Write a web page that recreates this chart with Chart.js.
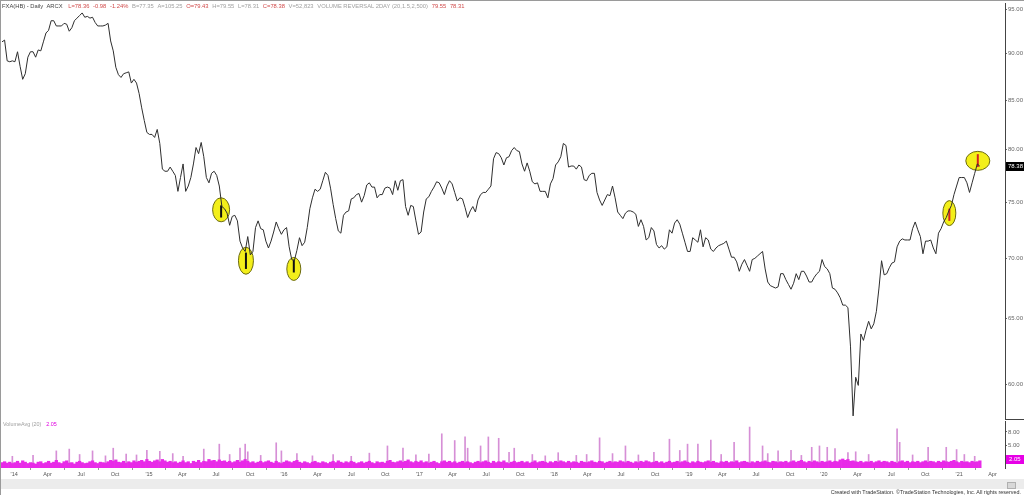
<!DOCTYPE html>
<html lang="en">
<head>
  <meta charset="UTF-8" />
  <title>FXA(HB) - Daily</title>
  <script src="https://cdn.jsdelivr.net/npm/chart.js@4"></script>
  <style>
    body {
      margin: 0;
      background: #fff;
      font-family: "Liberation Sans", Arial, sans-serif;
    }
    .wrap {
      position: relative;
      width: 1024px;
      height: 495px;
      overflow: hidden;
      background: #fff;
      border-left: 1px solid #9a9a9a;
      border-top: 1px solid #9a9a9a;
      box-sizing: border-box;
    }
    canvas { position: absolute; left: 0; }
    #price { top: 0; }
    #vol { top: 419px; }
    .hdr {
      position: absolute;
      top: 1px;
      left: 1px;
      font-size: 5.8px;
      line-height: 8px;
      white-space: nowrap;
      display: flex;
      gap: 3.7px;
    }
    .hdr span { flex-shrink: 0; }
    .hdr .title { color: #444; margin-right: 2px; }
    .rd { color: #d04a4a; }
    .gy { color: #a0a0a0; }
    .vlab {
      position: absolute;
      top: 420px;
      left: 2px;
      font-size: 5.4px;
      color: #a0a0a0;
      white-space: nowrap;
    }
    .vlab b { font-weight: normal; color: #e000e0; margin-left: 5px; }
    .band {
      position: absolute;
      left: 0;
      top: 478px;
      width: 1024px;
      height: 10px;
      background: #ececec;
    }
    .thumb {
      position: absolute;
      left: 1006px;
      top: 481px;
      width: 7px;
      height: 5px;
      background: #d8d8d8;
      border: 1px solid #b0b0b0;
    }
    .credit {
      position: absolute;
      right: 3px;
      top: 488px;
      font-size: 5.4px;
      color: #333;
      white-space: nowrap;
    }
  </style>
</head>
<body>
  <div class="wrap">
    <canvas id="price" width="1024" height="419"></canvas>
    <canvas id="vol" width="1024" height="60"></canvas>
    <div class="hdr">
      <span class="title">FXA(HB) - Daily&nbsp;&nbsp;ARCX</span>
      <span class="rd">L=78.36</span>
      <span class="rd">-0.98</span>
      <span class="rd">-1.24%</span>
      <span class="gy">B=77.35</span>
      <span class="gy">A=105.25</span>
      <span class="rd">O=79.43</span>
      <span class="gy">H=79.55</span>
      <span class="gy">L=78.31</span>
      <span class="rd">C=78.38</span>
      <span class="gy">V=52,823</span>
      <span class="gy">VOLUME REVERSAL 2DAY (20,1.5,2,500)</span>
      <span class="rd">79.55</span>
      <span class="rd">78.31</span>
    </div>
    <div class="vlab">VolumeAvg (20)<b>2.05</b></div>
    <div class="band"></div>
    <div class="thumb"></div>
    <div class="credit">Created with TradeStation. &copy;TradeStation Technologies, Inc. All rights reserved.</div>
  </div>

  <script>
    // weekly closes, first week ending 29 Nov 2013, last bar 25 Feb 2021
    const startMs = Date.UTC(2013, 10, 29);
    const dayMs = 864e5;
    const weekTime = i => startMs + i * 7 * dayMs;

    const prices = [
      91.3, 91.5, 89.2, 89.1, 89.2, 89.1, 90.2, 88.6, 87.2, 87.8, 89.6, 90.2, 90.2, 89.6, 90.4, 90.3, 91.3, 92.3, 92.6, 93.7,
      93.7, 93.1, 93.1, 93.1, 93.4, 93.3, 92.5, 92.9, 93.7, 94.0, 94.3, 94.6, 94.1, 94.2, 94.0, 94.1, 93.5, 93.1, 93.1, 93.1,
      93.2, 93.4, 91.4, 90.3, 88.5, 87.7, 87.4, 87.8, 87.9, 88.0, 86.8, 87.2, 86.8, 85.7, 84.2, 82.9, 81.7, 81.5, 81.5, 81.2,
      82.0, 80.6, 78.1, 77.9, 77.9, 78.3, 77.9, 77.5, 76.0, 77.3, 78.6, 76.0, 76.5, 77.3, 78.6, 80.2, 79.6, 80.7, 79.3, 77.3,
      76.8, 77.7, 77.9, 77.5, 76.5, 74.6, 74.4, 74.0, 72.9, 73.7, 73.8, 73.3, 71.5, 70.9, 70.6, 71.9, 70.3, 70.6, 72.7, 73.3,
      72.6, 72.5, 71.5, 70.9, 71.5, 72.3, 73.2, 72.6, 72.1, 72.5, 72.7, 71.0, 69.9, 69.8, 70.7, 71.8, 71.1, 71.4, 72.7, 74.4,
      75.4, 76.2, 76.0, 76.2, 77.0, 77.8, 77.5, 76.3, 74.8, 73.5, 72.4, 72.2, 73.8, 74.1, 74.2, 75.3, 75.4, 75.7, 75.8, 75.0,
      75.6, 76.6, 76.8, 76.4, 76.4, 75.4, 75.7, 75.7, 76.3, 76.4, 76.3, 75.7, 77.0, 76.1, 77.0, 77.1, 74.6, 73.8, 74.7, 74.6,
      73.3, 72.1, 72.3, 74.1, 75.3, 75.5, 76.0, 76.4, 76.9, 76.8, 76.3, 75.7, 76.5, 77.0, 76.7, 75.9, 75.1, 75.4, 75.3, 74.5,
      73.6, 74.2, 74.6, 74.1, 75.2, 75.7, 75.9, 75.9, 76.2, 76.5, 79.1, 79.7, 79.6, 79.2, 78.5, 79.2, 79.3, 79.9, 80.2, 79.9,
      79.8, 78.6, 77.9, 78.7, 77.9, 76.9, 76.7, 76.8, 76.0, 76.0, 76.0, 75.4, 76.7, 77.2, 78.5, 78.8, 79.3, 80.6, 80.4, 78.3,
      78.4, 78.4, 78.1, 78.5, 78.3, 77.1, 77.0, 77.5, 77.7, 77.7, 75.9, 75.2, 74.7, 75.2, 75.7, 75.6, 76.5, 75.4, 74.1, 73.8,
      73.5, 74.0, 74.2, 74.2, 74.1, 73.9, 72.8, 73.4, 72.8, 71.6, 71.8, 72.7, 72.4, 71.2, 70.9, 71.1, 70.8, 71.0, 72.5, 72.2,
      73.1, 73.4, 73.0, 72.2, 71.4, 70.6, 70.6, 71.8, 71.6, 71.4, 72.5, 71.0, 71.8, 71.6, 70.8, 70.6, 70.9, 71.1, 71.2, 71.3,
      71.5, 70.8, 70.1, 70.1, 69.7, 68.9, 69.5, 69.9, 69.4, 68.9, 69.9, 70.0, 70.2, 70.4, 70.6, 69.1, 68.0, 67.7, 67.6, 67.5,
      67.6, 68.7, 68.7, 68.2, 67.8, 67.4, 67.9, 68.7, 68.2, 68.9, 68.9, 68.5, 68.0, 68.0, 68.4, 68.7, 68.9, 69.9, 69.3, 69.1,
      68.7, 67.5, 67.4, 67.1, 66.7, 66.1, 66.1, 65.9, 62.8, 57.7, 60.5, 59.9, 63.8, 63.3, 64.1, 64.8, 64.2, 64.6, 65.6, 67.5,
      69.8, 68.6, 68.7, 69.2, 69.6, 69.7, 71.0, 71.5, 71.7, 71.6, 71.6, 71.6, 72.6, 73.2, 72.5, 71.9, 70.4, 71.5, 71.5, 71.6,
      70.9, 70.4, 72.2, 72.6, 73.2, 73.6, 74.2, 74.7, 75.7, 76.5, 77.3, 77.3, 77.3, 76.8, 75.9, 76.8, 77.7, 78.6, 78.38
    ];

    // weekly volume (display units), typical level
    const volumes = [
      1.2, 1.4, 1.1, 1.3, 1.0, 1.2, 1.5, 1.1, 1.6, 1.3, 1.0, 1.2, 1.1, 0.9, 1.3, 1.4, 1.0, 1.2, 1.5, 1.1,
      1.3, 1.7, 1.2, 1.0, 1.4, 1.6, 1.1, 1.2, 0.9, 1.3, 1.5, 1.2, 1.0, 1.1, 1.4, 1.6, 1.2, 1.0, 1.3, 1.2,
      1.1, 1.4, 1.7, 1.5, 1.8, 1.3, 1.2, 1.5, 1.1, 1.4, 1.2, 1.6, 1.3, 1.5, 1.7, 1.4, 1.9, 1.5, 1.3, 1.6,
      1.8, 1.4, 1.9, 1.6, 1.3, 1.5, 1.2, 1.4, 1.1, 1.3, 1.6, 1.2, 1.4, 1.0, 1.5, 1.3, 1.7, 1.2, 1.5, 1.4,
      1.9, 1.6, 1.7, 1.4, 1.8, 1.5, 1.6, 1.3, 1.5, 1.2, 1.4, 1.7, 1.3, 1.6, 1.9, 1.5, 1.2, 1.4, 1.1, 1.3,
      1.5, 1.2, 1.4, 1.6, 1.3, 1.1, 1.5, 1.2, 1.0, 1.3, 1.6, 1.4, 1.2, 1.5, 1.7, 1.3, 1.1, 1.4, 1.2, 1.0,
      1.3, 1.5, 1.2, 1.1, 1.4, 1.2, 1.0, 1.3, 1.5, 1.2, 1.6, 1.3, 1.1, 1.4, 1.2, 1.5, 1.3, 1.0, 1.2, 1.4,
      1.1, 1.3, 1.5, 1.2, 1.0, 1.4, 1.2, 1.3, 1.1, 1.5, 1.7, 1.3, 1.2, 1.4, 1.6, 1.3, 1.5, 1.8, 1.4, 1.2,
      1.5, 1.3, 1.6, 1.2, 1.4, 1.1, 1.3, 1.5, 1.2, 1.0, 1.4, 1.6, 1.3, 1.5, 1.2, 1.4, 1.1, 1.3, 1.5, 1.2,
      1.4, 1.2, 1.0, 1.3, 1.5, 1.2, 1.4, 1.6, 1.3, 1.1, 1.5, 1.2, 1.4, 1.3, 1.6, 1.2, 1.0, 1.3, 1.5, 1.2,
      1.3, 1.5, 1.2, 1.4, 1.1, 1.3, 1.6, 1.2, 1.4, 1.5, 1.3, 1.1, 1.4, 1.2, 1.5, 1.3, 1.6, 1.4, 1.2, 1.5,
      1.2, 1.4, 1.3, 1.1, 1.5, 1.3, 1.2, 1.4, 1.6, 1.3, 1.2, 1.5, 1.4, 1.1, 1.3, 1.5, 1.2, 1.4, 1.3, 1.6,
      1.4, 1.2, 1.5, 1.3, 1.1, 1.4, 1.2, 1.5, 1.3, 1.6, 1.4, 1.2, 1.3, 1.5, 1.2, 1.4, 1.1, 1.3, 1.5, 1.2,
      1.3, 1.5, 1.2, 1.4, 1.6, 1.3, 1.1, 1.4, 1.2, 1.5, 1.3, 1.2, 1.4, 1.6, 1.3, 1.5, 1.2, 1.1, 1.4, 1.3,
      1.5, 1.2, 1.4, 1.3, 1.6, 1.2, 1.4, 1.5, 1.3, 1.1, 1.4, 1.2, 1.5, 1.3, 1.4, 1.6, 1.3, 1.2, 1.5, 1.4,
      1.2, 1.4, 1.3, 1.5, 1.2, 1.4, 1.6, 1.3, 1.5, 1.7, 1.4, 1.2, 1.5, 1.3, 1.6, 1.4, 1.2, 1.5, 1.3, 1.4,
      1.6, 1.3, 1.5, 1.4, 1.8, 2.0, 1.7, 1.9, 1.5, 1.6, 1.4, 1.3, 1.5, 1.2, 1.4, 1.3, 1.5, 1.2, 1.4, 1.6,
      1.3, 1.5, 1.4, 1.2, 1.5, 1.3, 1.1, 1.4, 1.6, 1.3, 1.5, 1.2, 1.4, 1.3, 1.5, 1.2, 1.4, 1.6, 1.3, 1.5,
      1.4, 1.2, 1.5, 1.3, 1.6, 1.4, 1.3, 1.5, 1.7, 1.4, 1.2, 1.5, 1.3, 1.4, 1.2, 1.5, 1.3, 1.4, 1.6
    ];

    // single-day volume spikes: week index and value
    const spikeWeeks = [4, 12, 21, 26, 30, 35, 40, 43, 48, 52, 56, 61, 66, 70, 78, 84, 88, 92, 94, 95,
      100, 106, 108, 114, 120, 128, 135, 142, 149, 155, 160, 165, 170, 175, 179, 180, 185, 188, 192, 196,
      198, 205, 210, 215, 222, 226, 231, 236, 241, 246, 252, 258, 262, 265, 269, 274, 278, 283, 289, 294,
      296, 300, 305, 309, 313, 316, 319, 322, 327, 330, 335, 346, 347, 352, 358, 365, 369, 372, 376];
    const spikeVols = [2.6, 2.8, 3.8, 4.2, 3.0, 3.8, 2.7, 4.4, 3.1, 2.9, 3.9, 3.7, 3.2, 2.6, 4.2, 5.3, 3.0, 4.4, 5.3, 3.6,
      2.8, 5.6, 3.8, 3.2, 2.7, 3.0, 2.6, 3.3, 4.9, 4.4, 2.9, 3.1, 7.6, 6.1, 6.9, 4.4, 4.9, 6.9, 6.6, 3.5,
      4.4, 3.0, 2.7, 3.4, 2.8, 3.0, 6.7, 3.2, 4.9, 2.9, 3.5, 6.4, 3.9, 5.3, 5.3, 6.2, 3.0, 5.7, 9.1, 4.9,
      3.2, 3.8, 3.9, 2.8, 4.6, 4.9, 4.6, 4.3, 3.4, 3.6, 3.0, 8.7, 5.7, 2.9, 4.6, 4.6, 4.1, 3.0, 2.6];

    // volume reversal signals (circled): week index, circle centre price, bar high / low
    const signalWeeks = [84.7, 94.3, 112.8, 366.2, 377.2];
    const signalPrices = [74.3, 69.8, 69.1, 74.0, 78.9];
    const signalHigh = [74.7, 70.5, 69.9, 74.4, 79.55];
    const signalLow = [73.6, 69.1, 68.8, 73.3, 78.31];

    const priceTicks = [60, 65, 70, 75, 80, 85, 90, 95];
    const volTicks = [5, 8];
    const lastClose = 78.38;
    const volAvg = 2.05;

    const xTickLabels = ["'14", 'Apr', 'Jul', 'Oct', "'15", 'Apr', 'Jul', 'Oct', "'16", 'Apr', 'Jul', 'Oct',
      "'17", 'Apr', 'Jul', 'Oct', "'18", 'Apr', 'Jul', 'Oct', "'19", 'Apr', 'Jul', 'Oct',
      "'20", 'Apr', 'Jul', 'Oct', "'21", 'Apr'];
    const xTickTimes = xTickLabels.map((_, k) => Date.UTC(2014 + Math.floor(k / 4), (k % 4) * 3, 1));

    const xMin = startMs - 2.7 * dayMs;
    const xMax = startMs + 2714 * dayMs;
    const FONT = 'Liberation Sans';

    // circles + thick signal bars drawn under the price line
    const signalPlugin = {
      id: 'signals',
      beforeDatasetsDraw(chart) {
        const { ctx, scales } = chart;
        const radii = [[8.5, 12], [7.5, 13.5], [7, 11.5], [6.5, 12.5], [12, 9.5]];
        const barColors = ['#111', '#111', '#111', '#d42020', '#d42020'];
        ctx.save();
        signalWeeks.forEach((w, k) => {
          const x = scales.x.getPixelForValue(weekTime(w));
          const y = scales.y.getPixelForValue(signalPrices[k]);
          ctx.beginPath();
          ctx.ellipse(x, y, radii[k][0], radii[k][1], 0, 0, Math.PI * 2);
          ctx.fillStyle = '#f3ef1a';
          ctx.fill();
          ctx.lineWidth = 1;
          ctx.strokeStyle = '#6b6a10';
          ctx.stroke();
          ctx.beginPath();
          ctx.moveTo(x, scales.y.getPixelForValue(signalHigh[k]));
          ctx.lineTo(x, scales.y.getPixelForValue(signalLow[k]));
          ctx.lineWidth = 2;
          ctx.strokeStyle = barColors[k];
          ctx.stroke();
        });
        ctx.restore();
      },
      afterDraw(chart) {
        const { ctx, scales } = chart;
        const y = scales.y.getPixelForValue(lastClose);
        ctx.save();
        ctx.fillStyle = '#000';
        ctx.fillRect(1005, Math.round(y) - 4, 19, 9);
        ctx.fillStyle = '#fff';
        ctx.font = '6px ' + FONT;
        ctx.textBaseline = 'middle';
        ctx.fillText(lastClose.toFixed(2), 1007, Math.round(y) + 0.5);
        // short separator between the two panes on the axis
        ctx.strokeStyle = '#444';
        ctx.beginPath();
        ctx.moveTo(1004, 418.5);
        ctx.lineTo(1024, 418.5);
        ctx.stroke();
        ctx.restore();
      }
    };

    new Chart(document.getElementById('price'), {
      type: 'line',
      data: {
        datasets: [{
          data: prices.map((p, i) => ({ x: weekTime(i), y: p })),
          borderColor: '#2e2e2e',
          borderWidth: 1,
          pointRadius: 0,
          tension: 0
        }]
      },
      options: {
        responsive: false,
        animation: false,
        layout: { padding: { top: 2, left: 0, right: 0, bottom: 0 } },
        plugins: { legend: { display: false }, tooltip: { enabled: false } },
        scales: {
          x: { type: 'linear', display: false, min: xMin, max: xMax },
          y: {
            type: 'logarithmic',
            position: 'right',
            min: 57.41,
            max: 95.76,
            afterBuildTicks: s => { s.ticks = priceTicks.map(v => ({ value: v })); },
            afterFit: s => { s.width = 20; s.paddingTop = 0; s.paddingBottom = 0; },
            grid: { drawOnChartArea: false, tickLength: 2, color: '#666' },
            border: { color: '#444' },
            ticks: {
              color: '#666',
              padding: 1,
              font: { family: FONT, size: 6 },
              callback: v => v.toFixed(2)
            }
          }
        }
      },
      plugins: [signalPlugin]
    });

    const volPlugin = {
      id: 'volAvg',
      afterDraw(chart) {
        const { ctx, scales } = chart;
        const y = scales.y.getPixelForValue(volAvg);
        ctx.save();
        ctx.fillStyle = '#e600e6';
        ctx.fillRect(1005, Math.round(y) - 4, 19, 9);
        ctx.fillStyle = '#fff';
        ctx.font = '6px ' + FONT;
        ctx.textBaseline = 'middle';
        ctx.fillText(volAvg.toFixed(2), 1008, Math.round(y) + 0.5);
        ctx.restore();
      }
    };

    new Chart(document.getElementById('vol'), {
      type: 'bar',
      data: {
        datasets: [
          {
            data: volumes.map((v, i) => ({ x: weekTime(i), y: v })),
            backgroundColor: '#e82ae8',
            barPercentage: 1,
            categoryPercentage: 1,
            grouped: false
          },
          {
            data: spikeWeeks.map((w, k) => ({ x: weekTime(w), y: spikeVols[k] })),
            backgroundColor: '#d68fd6',
            barThickness: 1,
            grouped: false
          }
        ]
      },
      options: {
        responsive: false,
        animation: false,
        layout: { padding: { top: 1, left: 0, right: 0, bottom: 0 } },
        plugins: { legend: { display: false }, tooltip: { enabled: false } },
        scales: {
          x: {
            type: 'linear',
            min: xMin,
            max: xMax,
            offset: false,
            afterBuildTicks: s => { s.ticks = xTickTimes.map(v => ({ value: v })); },
            afterFit: s => { s.height = 12; },
            grid: { drawOnChartArea: false, tickLength: 2, color: '#999' },
            border: { display: false },
            ticks: {
              autoSkip: false,
              maxRotation: 0,
              padding: 1,
              color: '#555',
              font: { family: FONT, size: 5.5 },
              callback: (v, idx) => xTickLabels[idx]
            }
          },
          y: {
            position: 'right',
            min: 0,
            max: 10.44,
            afterBuildTicks: s => { s.ticks = volTicks.map(v => ({ value: v })); },
            afterFit: s => { s.width = 20; s.paddingTop = 0; s.paddingBottom = 0; },
            grid: { drawOnChartArea: false, tickLength: 2, color: '#666' },
            border: { color: '#444' },
            ticks: {
              color: '#666',
              padding: 1,
              font: { family: FONT, size: 6 },
              callback: v => v.toFixed(2)
            }
          }
        }
      },
      plugins: [volPlugin]
    });
  </script>
</body>
</html>
